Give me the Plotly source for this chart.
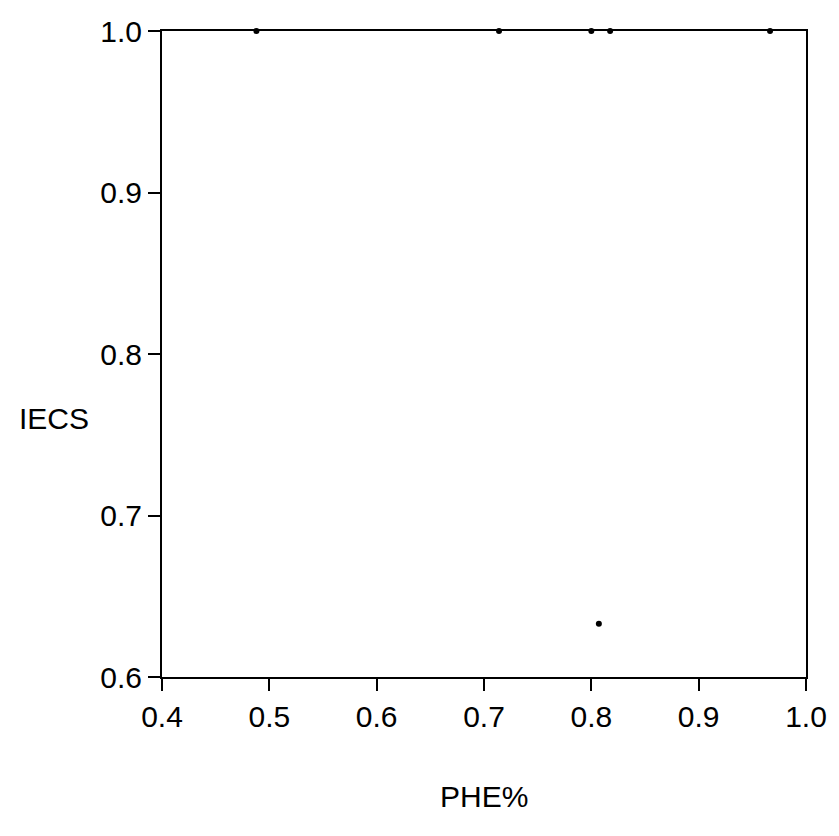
import plotly.graph_objects as go

phe = [0.488, 0.714, 0.800, 0.8175, 0.9665, 0.807]
iecs = [1.0, 1.0, 1.0, 1.0, 1.0, 0.633]
x_ticks = [0.4, 0.5, 0.6, 0.7, 0.8, 0.9, 1.0]
y_ticks = [0.6, 0.7, 0.8, 0.9, 1.0]

fig = go.Figure()
fig.add_trace(go.Scatter(x=phe, y=iecs, mode="markers",
                         marker=dict(color="black", size=6),
                         cliponaxis=False, showlegend=False))

font = dict(family="Liberation Sans, Arial", size=30, color="black")
fig.update_layout(
    width=839, height=836,
    margin=dict(l=162, r=29, t=31, b=159),
    plot_bgcolor="white", paper_bgcolor="white",
    font=font,
    xaxis=dict(range=[0.4, 1.0], tickvals=x_ticks,
               ticktext=[f"{v:.1f}" for v in x_ticks],
               showgrid=False, zeroline=False, showline=True,
               linecolor="black", linewidth=2, mirror=True,
               ticks="outside", ticklen=12, tickwidth=1.5, tickcolor="black",
               tickfont=font),
    yaxis=dict(range=[0.6, 1.0], tickvals=y_ticks,
               ticktext=[f"{v:.1f}" for v in y_ticks],
               showgrid=False, zeroline=False, showline=True,
               linecolor="black", linewidth=2, mirror=True,
               ticks="outside", ticklen=12, tickwidth=1.5, tickcolor="black",
               tickfont=font),
    annotations=[
        dict(text="PHE%", xref="paper", yref="paper", x=0.5, y=-0.185,
             xanchor="center", yanchor="middle", showarrow=False, font=font),
        dict(text="IECS", xref="paper", yref="paper", x=-0.168, y=0.40,
             xanchor="center", yanchor="middle", showarrow=False, font=font),
    ],
)
fig.write_html("out.html")
